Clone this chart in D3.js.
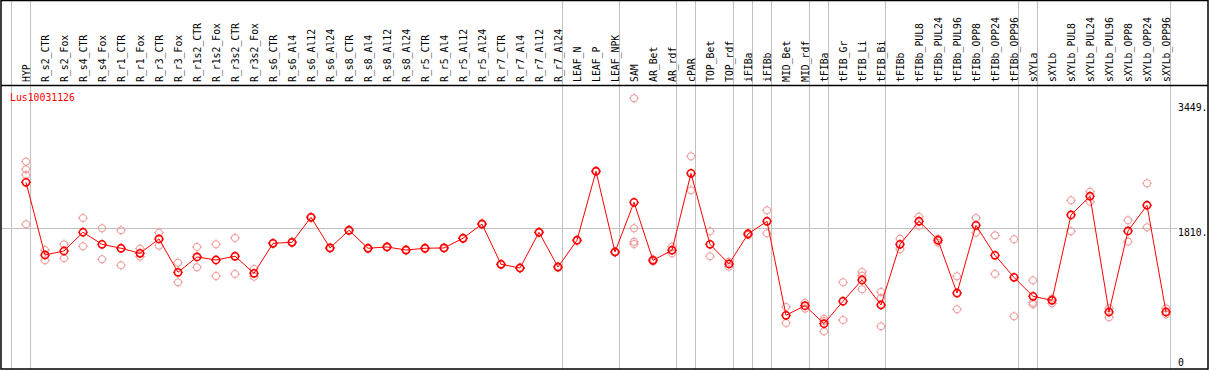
<!DOCTYPE html>
<html>
<head>
<meta charset="utf-8">
<script src="https://cdn.jsdelivr.net/npm/d3@7"></script>
<style>
  html, body { margin: 0; padding: 0; background: #fff; }
  svg { display: block; }
  text { font-family: "DejaVu Sans Mono", monospace; font-size: 9.8px; }
</style>
</head>
<body>
<svg width="1209" height="370"></svg>
<script>
const geneName = 'Lus10031126';

const samples = [
    'HYP', 'R_s2_CTR', 'R_s2_Fox', 'R_s4_CTR', 'R_s4_Fox', 'R_r1_CTR', 'R_r1_Fox', 'R_r3_CTR', 'R_r3_Fox',
    'R_r1s2_CTR', 'R_r1s2_Fox', 'R_r3s2_CTR', 'R_r3s2_Fox', 'R_s6_CTR', 'R_s6_Al4', 'R_s6_Al12', 'R_s6_Al24',
    'R_s8_CTR', 'R_s8_Al4', 'R_s8_Al12', 'R_s8_Al24', 'R_r5_CTR', 'R_r5_Al4', 'R_r5_Al12', 'R_r5_Al24',
    'R_r7_CTR', 'R_r7_Al4', 'R_r7_Al12', 'R_r7_Al24', 'LEAF_N', 'LEAF_P', 'LEAF_NPK', 'SAM', 'AR_Bet', 'AR_rdf',
    'cPAR', 'TOP_Bet', 'TOP_rdf', 'iFIBa', 'iFIBb', 'MID_Bet', 'MID_rdf', 'tFIBa', 'tFIB_Gr', 'tFIB_Li', 'tFIB_Bi',
    'tFIBb', 'tFIBb_PUL8', 'tFIBb_PUL24', 'tFIBb_PUL96', 'tFIBb_OPP8', 'tFIBb_OPP24', 'tFIBb_OPP96',
    'sXYLa', 'sXYLb', 'sXYLb_PUL8', 'sXYLb_PUL24', 'sXYLb_PUL96', 'sXYLb_OPP8', 'sXYLb_OPP24', 'sXYLb_OPP96',
];

// mean expression per sample (the red line)
const means = [
    2409, 1456, 1508, 1754, 1596, 1544, 1478, 1666, 1229, 1430, 1390, 1439, 1216, 1609, 1622, 1950, 1548,
    1780, 1544, 1561, 1521, 1544, 1548, 1675, 1862, 1334, 1285, 1754, 1298, 1649, 2554, 1495, 2147, 1386,
    1518, 2527, 1596, 1338, 1731, 1898, 665, 791, 555, 849, 1128, 800, 1596, 1898, 1649, 957, 1845, 1452,
    1163, 914, 862, 1981, 2226, 708, 1771, 2108, 708,
];

// replicate values (pale circles)
const replicates = [
    [2680, 2580, 2505, 1859], [1521, 1386], [1596, 1413], [1941, 1570], [1806, 1400], [1780, 1321],
    [1539, 1434], [1748, 1578], [1355, 1098], [1561, 1295], [1596, 1180], [1679, 1207], [1272, 1171],
    [1615, 1603], [1628, 1616], [1956, 1944], [1554, 1542], [1786, 1774], [1550, 1538], [1567, 1555],
    [1527, 1515], [1550, 1538], [1554, 1542], [1681, 1669], [1868, 1856], [1340, 1328], [1291, 1279],
    [1760, 1748], [1304, 1292], [1655, 1643], [2560, 2548], [1501, 1489], [3511, 1806, 1630, 1600],
    [1400, 1372], [1565, 1478], [2750, 2304], [1767, 1439], [1368, 1302], [1745, 1717], [2042, 1740],
    [774, 564], [830, 752], [620, 590, 455], [1098, 603], [1233, 1184, 1006], [971, 892, 521],
    [1670, 1531], [1958, 1840], [1670, 1617], [1177, 744], [1941, 1748], [1714, 1207], [1662, 652],
    [1124, 830, 809], [883, 822], [2173, 1767], [2286, 2155], [757, 639], [1911, 1630], [2396, 1819],
    [757, 678],
];

// first sample of each tissue group; a separator is drawn before each, plus one after the last
const groupStarts = ['HYP', 'R_s2_CTR', 'LEAF_N', 'SAM', 'cPAR', 'TOP_Bet', 'iFIBa', 'iFIBb', 'MID_Bet',
    'tFIBa', 'tFIB_Gr', 'tFIBb', 'sXYLa', 'sXYLb'];

const yTickValues = [3449, 1810, 0];
const yTickLabels = ['3449.', '1810.', '0'];
const gridValues = [1810];

const svg = d3.select('svg');
const W = 1209;
const H = 370;
const headerBottom = 85;

const x = d3.scalePoint()
    .domain(samples)
    .range([26, 1166]);
const step = x.step();

const y = d3.scaleLinear()
    .domain([0, 3449])
    .range([366, 103]);

const red = '#ff0000';
const pale = '#f09696';
const grid = '#c0c0c0';

// vertical group separators (run through header too)
const sepX = groupStarts.map(s => x(s) - 15).concat([x(samples[samples.length - 1]) + step - 15]);
svg.append('g')
    .selectAll('line')
    .data(sepX)
    .join('line')
    .attr('x1', d => Math.round(d) + 0.5)
    .attr('x2', d => Math.round(d) + 0.5)
    .attr('y1', 0)
    .attr('y2', H)
    .attr('stroke', grid)
    .attr('stroke-width', 1);

// horizontal grid line
svg.append('g')
    .selectAll('line')
    .data(gridValues)
    .join('line')
    .attr('x1', 1)
    .attr('x2', 1177)
    .attr('y1', d => Math.round(y(d)) + 0.5)
    .attr('y2', d => Math.round(y(d)) + 0.5)
    .attr('stroke', grid);

// frame and header rule
svg.append('rect')
    .attr('x', 1)
    .attr('y', 0.5)
    .attr('width', W - 2)
    .attr('height', H - 1.5)
    .attr('fill', 'none')
    .attr('stroke', '#000')
    .attr('stroke-width', 1.5);

svg.append('line')
    .attr('x1', 1)
    .attr('x2', W - 1)
    .attr('y1', headerBottom + 0.5)
    .attr('y2', headerBottom + 0.5)
    .attr('stroke', '#000')
    .attr('stroke-width', 1.5);

// rotated sample labels
svg.append('g')
    .selectAll('text')
    .data(samples)
    .join('text')
    .attr('transform', d => `translate(${x(d) + 3.5},82) rotate(-90)`)
    .attr('fill', '#000')
    .text(d => d);

// gene name
svg.append('text')
    .attr('x', 10)
    .attr('y', 101)
    .attr('fill', red)
    .text(geneName);

// right-hand value labels
svg.append('g')
    .selectAll('text')
    .data(yTickValues)
    .join('text')
    .attr('x', 1178)
    .attr('y', d => (d === 0 ? y(d) : y(d) + 7.8))
    .attr('fill', '#000')
    .text((d, i) => yTickLabels[i]);

// marker: circle with four tiny ticks
function marker(g, color, width) {
    const r = 3.6;
    g.append('circle')
        .attr('r', r)
        .attr('fill', 'none')
        .attr('stroke', color)
        .attr('stroke-width', width);
    [[0, -1], [0, 1], [-1, 0], [1, 0]].forEach(([dx, dy]) => {
        g.append('line')
            .attr('x1', dx * r)
            .attr('y1', dy * r)
            .attr('x2', dx * (r + 1.3))
            .attr('y2', dy * (r + 1.3))
            .attr('stroke', color)
            .attr('stroke-width', 1);
    });
}

// replicate points
const repData = [];
replicates.forEach((vals, i) => vals.forEach(v => repData.push({ s: samples[i], v })));
svg.append('g')
    .selectAll('g')
    .data(repData)
    .join('g')
    .attr('transform', d => `translate(${x(d.s)},${y(d.v)})`)
    .each(function m() { marker(d3.select(this), pale, 1); });

// mean line
const line = d3.line()
    .x((d, i) => x(samples[i]))
    .y(d => y(d));

svg.append('path')
    .datum(means)
    .attr('d', line)
    .attr('fill', 'none')
    .attr('stroke', red)
    .attr('stroke-width', 1);

svg.append('g')
    .selectAll('g')
    .data(means)
    .join('g')
    .attr('transform', (d, i) => `translate(${x(samples[i])},${y(d)})`)
    .each(function m() { marker(d3.select(this), red, 1.6); });
</script>
</body>
</html>
